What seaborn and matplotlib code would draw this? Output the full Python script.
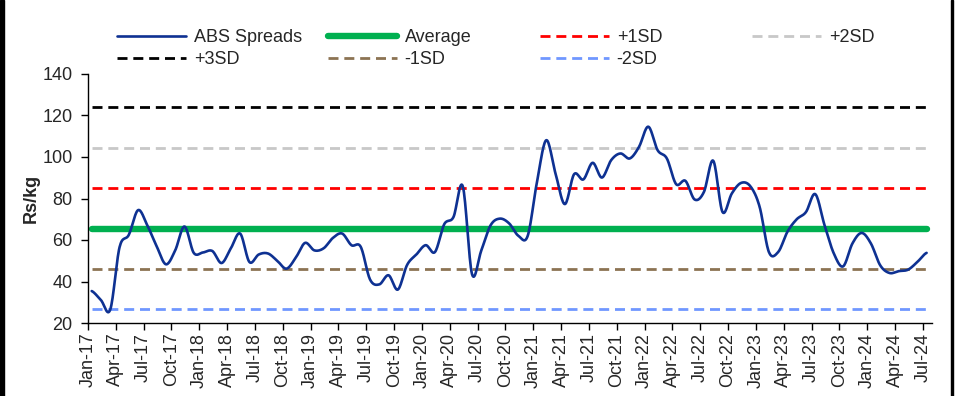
import numpy as np
import pandas as pd
import matplotlib
matplotlib.use("Agg")
import matplotlib.pyplot as plt
import seaborn as sns
from matplotlib.lines import Line2D
from matplotlib.patches import Rectangle

# Monthly ABS spreads (Rs/kg), Jan-17 .. Jul-24
months = pd.date_range("2017-01-01", "2024-07-01", freq="MS")
abs_spreads = [
    35.4, 31.0, 26.5, 56.5, 62.5, 74.4, 67.0, 57.0, 48.3, 55.0, 66.5, 53.8,   # 2017
    54.0, 54.7, 48.9, 56.0, 63.1, 49.4, 53.0, 53.5, 50.0, 46.2, 51.5, 58.6,   # 2018
    55.0, 56.0, 61.0, 63.1, 57.5, 56.7, 41.0, 38.6, 43.0, 36.1, 48.0, 53.0,   # 2019
    57.5, 54.2, 67.6, 71.1, 85.9, 43.5, 55.0, 67.1, 70.3, 68.0, 62.0, 62.0,   # 2020
    88.0, 108.1, 92.0, 77.3, 91.7, 89.2, 97.2, 90.1, 98.5, 101.7, 99.3, 104.9, # 2021
    114.6, 103.3, 99.3, 86.9, 88.5, 79.5, 83.2, 98.2, 73.5, 82.4, 87.5, 85.9,  # 2022
    76.0, 54.2, 54.2, 64.0, 70.0, 73.5, 82.1, 67.1, 53.5, 47.3, 58.3, 63.4,   # 2023
    58.3, 47.8, 44.1, 45.0, 45.7, 49.4, 53.8,                                 # 2024
]

# Long-run average and standard-deviation bands
average = 65.5
plus_1sd = 85.0
plus_2sd = 104.5
plus_3sd = 124.0
minus_1sd = 46.0
minus_2sd = 26.6

tick_labels = [d.strftime("%b-%y") for d in months[::3]]

FONT = ["Liberation Sans", "DejaVu Sans"]
sns.set_theme(style="white")
plt.rcParams["font.family"] = FONT


def smooth_curve(values, samples=16):
    """Cubic (Catmull-Rom style) smoothing of an evenly spaced series."""
    y = np.asarray(values, dtype=float)
    n = len(y)
    tang = np.empty(n)
    tang[1:-1] = (y[2:] - y[:-2]) / 2.0
    tang[0] = (y[1] - y[0]) / 2.0
    tang[-1] = (y[-1] - y[-2]) / 2.0
    xs, ys = [], []
    t = np.linspace(0, 1, samples, endpoint=False)
    h00 = 2 * t**3 - 3 * t**2 + 1
    h10 = t**3 - 2 * t**2 + t
    h01 = -2 * t**3 + 3 * t**2
    h11 = t**3 - t**2
    for i in range(n - 1):
        xs.append(i + t)
        ys.append(h00 * y[i] + h10 * tang[i] + h01 * y[i + 1] + h11 * tang[i + 1])
    xs.append([n - 1])
    ys.append([y[-1]])
    return np.concatenate(xs), np.concatenate(ys)


fig = plt.figure(figsize=(9.59, 3.96), dpi=100)
ax = fig.add_axes([88 / 959, 1 - 323 / 396, 843.7 / 959, 249 / 396])

n = len(abs_spreads)
idx = np.arange(n)

BLUE = "#0E3192"
GREEN = "#00B050"
DASH = (0, (3.6, 2.1))

level_styles = [
    ("+3SD", plus_3sd, "#000000"),
    ("+2SD", plus_2sd, "#C8C8C8"),
    ("+1SD", plus_1sd, "#FF0000"),
    ("-1SD", minus_1sd, "#8C7353"),
    ("-2SD", minus_2sd, "#7097FF"),
]
for name, val, col in level_styles:
    sns.lineplot(x=[idx[0], idx[-1]], y=[val, val], ax=ax, color=col,
                 linewidth=2.0, linestyle=DASH, legend=False)

sns.lineplot(x=[idx[0], idx[-1]], y=[average, average], ax=ax, color=GREEN,
             linewidth=4.6, solid_capstyle="round", legend=False)

sx, sy = smooth_curve(abs_spreads)
sns.lineplot(x=sx, y=sy, ax=ax, color=BLUE, linewidth=1.9, legend=False,
             sort=False, estimator=None)

ax.set_ylim(20, 140)
ax.set_yticks(np.arange(20, 141, 20))
ax.set_xlim(-0.4, 90.55)
ax.set_xticks(idx[::3] - 0.4)
ax.set_xticklabels(tick_labels, rotation=90, fontsize=13)
ax.tick_params(axis="y", labelsize=13, length=5, width=1, direction="out",
               color="#000000", left=True, pad=6)
ax.tick_params(axis="x", length=5, width=1, direction="out", color="#000000",
               bottom=True, pad=2)
for side in ("top", "right"):
    ax.spines[side].set_visible(False)
for side in ("left", "bottom"):
    ax.spines[side].set_color("#000000")
    ax.spines[side].set_linewidth(1.0)
ax.set_xlabel("")
ax.set_ylabel("Rs/kg", fontsize=13, fontweight="bold")
ax.yaxis.set_label_coords(-0.057, 0.5)

# Legend laid out in four columns, two rows
def handle(col, lw, dashed):
    if dashed:
        return Line2D([], [], color=col, linewidth=lw, linestyle=DASH)
    return Line2D([], [], color=col, linewidth=lw, solid_capstyle="round")

columns = [
    (117, [(handle(BLUE, 1.9, False), "ABS Spreads"), (handle("#000000", 2.0, True), "+3SD")]),
    (328, [(handle(GREEN, 4.6, False), "Average"), (handle("#8C7353", 2.0, True), "-1SD")]),
    (540, [(handle("#FF0000", 2.0, True), "+1SD"), (handle("#7097FF", 2.0, True), "-2SD")]),
    (752, [(handle("#C8C8C8", 2.0, True), "+2SD")]),
]
for x0, entries in columns:
    fig.legend([e[0] for e in entries], [e[1] for e in entries],
               loc="upper left", bbox_to_anchor=(x0 / 959, 1 - 29 / 396),
               frameon=False, fontsize=13, handlelength=3.8, handletextpad=0.45,
               borderpad=0, borderaxespad=0, labelspacing=0.3)

# Dark edge strips along the left and right sides
fig.patches.append(Rectangle((0, 0), 4 / 959, 1, transform=fig.transFigure,
                             color="#000000", zorder=10))
fig.patches.append(Rectangle((950.5 / 959, 0), 2.5 / 959, 1, transform=fig.transFigure,
                             color="#000000", zorder=10))

fig.savefig("out.png", dpi=100)
